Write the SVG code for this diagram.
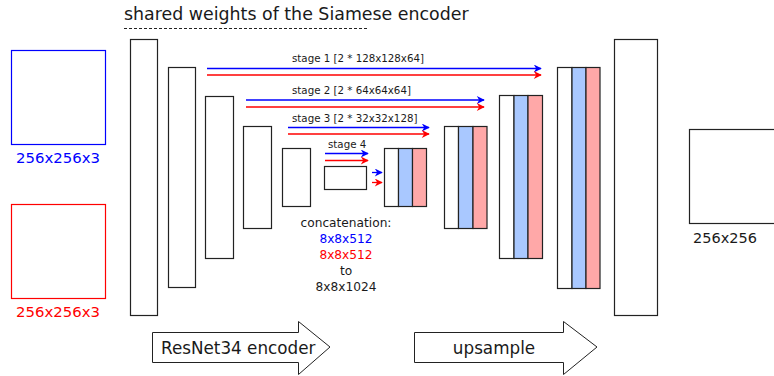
<svg xmlns="http://www.w3.org/2000/svg" width="774" height="376" viewBox="0 0 774 376">
<style>
text{font-family:"DejaVu Sans","Verdana",sans-serif;fill:#1a1a1a}
.box{fill:#fff;stroke:#222;stroke-width:1.2}
.bl{fill:#a9c8ff;stroke:#222;stroke-width:1.2}
.rd{fill:#ffa8a8;stroke:#222;stroke-width:1.2}
.ab{stroke:#0000ff;stroke-width:1.3;fill:none;marker-end:url(#mb)}
.ar{stroke:#ff0000;stroke-width:1.3;fill:none;marker-end:url(#mr)}
.s{font-size:10.25px}
.c{font-size:12.2px;text-anchor:middle}
</style>
<defs>
<marker id="mb" viewBox="0 0 10 10" refX="9" refY="5" markerWidth="10" markerHeight="8" markerUnits="userSpaceOnUse" orient="auto"><path d="M0,0 L10,5 L0,10 L3,5 z" fill="#0000ff"/></marker>
<marker id="mr" viewBox="0 0 10 10" refX="9" refY="5" markerWidth="10" markerHeight="8" markerUnits="userSpaceOnUse" orient="auto"><path d="M0,0 L10,5 L0,10 L3,5 z" fill="#ff0000"/></marker>
</defs>
<g id="title">
<text x="124" y="20" style="font-size:17.4px">shared weights of the Siamese encoder</text>
<line x1="124" y1="28.5" x2="368" y2="28.5" stroke="#222" stroke-width="1" stroke-dasharray="3,2"/>
</g>
<g id="input-blue">
<rect x="11.5" y="50.5" width="94" height="94" fill="#fff" stroke="#0000ff" stroke-width="1.2"/>
<text x="58" y="163" style="font-size:14.9px;text-anchor:middle;fill:#0000ff">256x256x3</text>
</g>
<g id="input-red">
<rect x="11.5" y="204.5" width="94" height="94" fill="#fff" stroke="#ff0000" stroke-width="1.2"/>
<text x="58" y="317" style="font-size:14.9px;text-anchor:middle;fill:#ff0000">256x256x3</text>
</g>
<g id="enc1"><rect class="box" x="130.5" y="39.5" width="27" height="276"/></g>
<g id="enc2"><rect class="box" x="168.5" y="67.5" width="27" height="220"/></g>
<g id="enc3"><rect class="box" x="205.5" y="96.5" width="28" height="162"/></g>
<g id="enc4"><rect class="box" x="243.5" y="126.5" width="28" height="102"/></g>
<g id="enc5"><rect class="box" x="282.5" y="148.5" width="28" height="58"/></g>
<g id="enc6"><rect class="box" x="324.5" y="166.5" width="42" height="23"/></g>
<g id="cat4">
<rect class="box" x="384.5" y="148.5" width="14" height="58"/>
<rect class="bl" x="398.5" y="148.5" width="14" height="58"/>
<rect class="rd" x="412.5" y="148.5" width="14" height="58"/>
</g>
<g id="cat3">
<rect class="box" x="444.5" y="126.5" width="14" height="102"/>
<rect class="bl" x="458.5" y="126.5" width="14.5" height="102"/>
<rect class="rd" x="473" y="126.5" width="14" height="102"/>
</g>
<g id="cat2">
<rect class="box" x="499.5" y="95.5" width="14.5" height="163"/>
<rect class="bl" x="514" y="95.5" width="14" height="163"/>
<rect class="rd" x="528" y="95.5" width="14.5" height="163"/>
</g>
<g id="cat1">
<rect class="box" x="557.5" y="67.5" width="14.5" height="221"/>
<rect class="bl" x="572" y="67.5" width="14" height="221"/>
<rect class="rd" x="586" y="67.5" width="14" height="221"/>
</g>
<g id="dec"><rect class="box" x="614.5" y="39.5" width="43" height="276"/></g>
<g id="output">
<rect class="box" x="689.5" y="129.5" width="100" height="94"/>
<text x="693" y="243" style="font-size:14.5px">256x256</text>
</g>
<g id="connectors">
<line class="ab" x1="207" y1="68.5" x2="541" y2="68.5"/>
<line class="ar" x1="207" y1="75" x2="541" y2="75"/>
<line class="ab" x1="246" y1="100" x2="484" y2="100"/>
<line class="ar" x1="246" y1="107" x2="484" y2="107"/>
<line class="ab" x1="288" y1="127.5" x2="429" y2="127.5"/>
<line class="ar" x1="288" y1="134" x2="429" y2="134"/>
<line class="ab" x1="325" y1="153.5" x2="368" y2="153.5"/>
<line class="ar" x1="325" y1="160.5" x2="368" y2="160.5"/>
<line class="ab" x1="372" y1="172.5" x2="382" y2="172.5"/>
<line class="ar" x1="372" y1="182.5" x2="382" y2="182.5"/>
</g>
<g id="labels">
<text class="s" x="292" y="62">stage 1 [2 * 128x128x64]</text>
<text class="s" x="292" y="93.5">stage 2 [2 * 64x64x64]</text>
<text class="s" x="292" y="121.5">stage 3 [2 * 32x32x128]</text>
<text class="s" x="328" y="147.5">stage 4</text>
<text class="c" x="346" y="227">concatenation:</text>
<text class="c" x="346" y="243" style="fill:#0000ff">8x8x512</text>
<text class="c" x="346" y="259" style="fill:#ff0000">8x8x512</text>
<text class="c" x="346" y="275">to</text>
<text class="c" x="346" y="291">8x8x1024</text>
</g>
<g id="encoder-arrow">
<path d="M152.5,332.5 H298.5 V321.5 L330,347 L298.5,374.5 V362.5 H152.5 Z" fill="#fff" stroke="#222" stroke-width="1"/>
<text x="161" y="354" style="font-size:16.8px">ResNet34 encoder</text>
</g>
<g id="upsample-arrow">
<path d="M414.5,332.5 H563.5 V321.5 L597,347 L563.5,374.5 V362.5 H414.5 Z" fill="#fff" stroke="#222" stroke-width="1"/>
<text x="494" y="354" style="font-size:16.8px;text-anchor:middle">upsample</text>
</g>
</svg>
